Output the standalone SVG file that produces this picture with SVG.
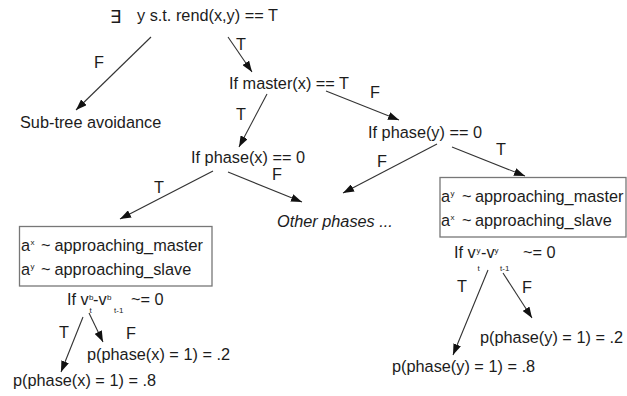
<svg xmlns="http://www.w3.org/2000/svg" width="627" height="396" viewBox="0 0 627 396">
<style>
text{font-family:"Liberation Sans",Arial,sans-serif;font-size:16.3px;fill:#1c1c1c}
.sup{font-size:8px}
.sub{font-size:8px}
.it{font-style:italic}
.box{fill:none;stroke:#777;stroke-width:1.3}
.c line{stroke:#333;stroke-width:1.1;marker-end:url(#ah)}
</style>
<defs>
<marker id="ah" markerUnits="userSpaceOnUse" markerWidth="11" markerHeight="8" refX="11" refY="4" orient="auto">
<path d="M0,0 L11,4 L0,8 z" fill="#111"/>
</marker>
</defs>
<rect width="627" height="396" fill="#fff"/>
<g id="root">
<text x="110" y="23" style="font-family:'DejaVu Sans',sans-serif;font-size:18px">∃</text>
<text x="137" y="21">y s.t. rend(x,y) == T</text>
</g>
<g id="subtree"><text x="20" y="128">Sub-tree avoidance</text></g>
<g id="master"><text x="229" y="89">If master(x) == T</text></g>
<g id="phasex"><text x="191" y="163">If phase(x) == 0</text></g>
<g id="phasey"><text x="368" y="138">If phase(y) == 0</text></g>
<g id="other"><text class="it" x="277" y="227">Other phases ...</text></g>
<g id="boxleft">
<rect class="box" x="19.5" y="226.5" width="192.5" height="59.5"/>
<text x="21" y="251">a</text><text class="sup" x="30.5" y="245">x</text><text x="41" y="251">~</text><text x="54.5" y="251">approaching_master</text>
<text x="21" y="275">a</text><text class="sup" x="30.5" y="269">y</text><text x="41" y="275">~</text><text x="54.5" y="275">approaching_slave</text>
</g>
<g id="boxright">
<rect class="box" x="440" y="177.5" width="186" height="59.5"/>
<text x="441" y="202">a</text><text class="sup" x="450.5" y="196">y</text><text x="462" y="202">~</text><text x="475" y="202">approaching_master</text>
<text x="441" y="226">a</text><text class="sup" x="450.5" y="220">x</text><text x="462" y="226">~</text><text x="475" y="226">approaching_slave</text>
</g>
<g id="condleft">
<text x="67" y="305">If v</text>
<text class="sup" x="89" y="300">b</text><text class="sub" x="89.5" y="313">t</text>
<text x="93" y="305">-v</text>
<text class="sup" x="107" y="300">b</text><text class="sub" x="114" y="313">t-1</text>
<text x="131" y="305">~= 0</text>
</g>
<g id="condright">
<text x="454" y="258">If v</text>
<text class="sup" x="476.5" y="253">y</text><text class="sub" x="477.5" y="271">t</text>
<text x="481" y="258">-v</text>
<text class="sup" x="494.5" y="253">y</text><text class="sub" x="500" y="271">t-1</text>
<text x="523" y="258">~= 0</text>
</g>
<g id="px2"><text x="87" y="360">p(phase(x) = 1) = .2</text></g>
<g id="px8"><text x="13" y="386">p(phase(x) = 1) = .8</text></g>
<g id="py2"><text x="480" y="343">p(phase(y) = 1) = .2</text></g>
<g id="py8"><text x="392" y="372">p(phase(y) = 1) = .8</text></g>
<g id="connectors" class="c">
<line x1="151" y1="37" x2="76" y2="110"/>
<line x1="228" y1="37" x2="252" y2="72"/>
<line x1="267" y1="94" x2="239" y2="147"/>
<line x1="326" y1="91" x2="399" y2="120"/>
<line x1="213" y1="171" x2="120" y2="219"/>
<line x1="228" y1="172" x2="302" y2="202"/>
<line x1="437" y1="144" x2="343" y2="193"/>
<line x1="452" y1="147" x2="525" y2="176"/>
<line x1="83" y1="317" x2="61" y2="372"/>
<line x1="89" y1="313" x2="103" y2="342"/>
<line x1="488" y1="270" x2="453" y2="355"/>
<line x1="503" y1="273" x2="532" y2="318"/>
</g>
<g id="edge-labels">
<text x="94" y="68">F</text>
<text x="236" y="50">T</text>
<text x="236" y="120">T</text>
<text x="370" y="98">F</text>
<text x="154" y="193">T</text>
<text x="272" y="180">F</text>
<text x="377" y="167">F</text>
<text x="496" y="155">T</text>
<text x="59" y="338">T</text>
<text x="126" y="339">F</text>
<text x="457" y="292">T</text>
<text x="522" y="293">F</text>
</g>
</svg>
